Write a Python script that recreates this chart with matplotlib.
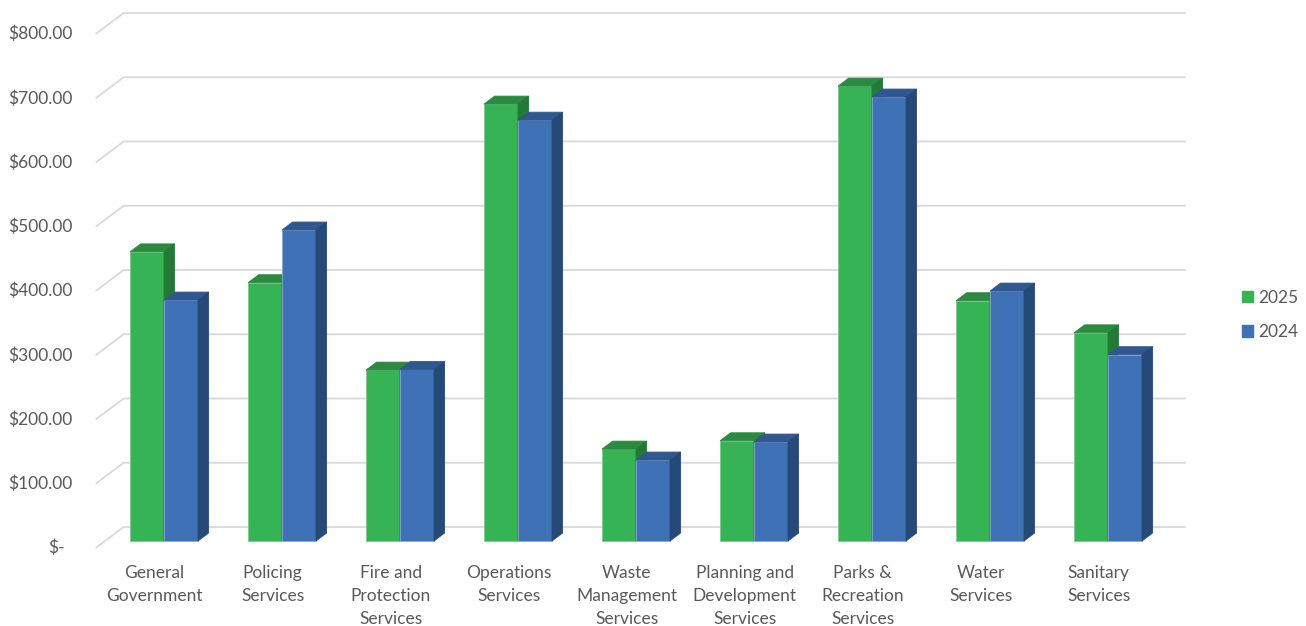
import matplotlib
matplotlib.use("Agg")
import matplotlib.pyplot as plt
from matplotlib.patches import Polygon, Patch

categories = [
    "General\nGovernment",
    "Policing\nServices",
    "Fire and\nProtection\nServices",
    "Operations\nServices",
    "Waste\nManagement\nServices",
    "Planning and\nDevelopment\nServices",
    "Parks &\nRecreation\nServices",
    "Water\nServices",
    "Sanitary\nServices",
]
series_names = ["2025", "2024"]
values_2025 = [450, 402, 266, 680, 143, 156, 708, 374, 324]
values_2024 = [375, 484, 267, 655, 126, 154, 691, 389, 290]
y_ticks = [0, 100, 200, 300, 400, 500, 600, 700, 800]

# colours: front, top, side
GREEN = ("#36b455", "#2a8a3f", "#237a37")
BLUE = ("#3f71b7", "#30578f", "#264a77")
GRID = "#d9d9d9"
TEXT = "#595959"

plt.rcParams["font.family"] = ["Lato", "DejaVu Sans"]

# fake 3d: depth vector (x in category units, y in value units)
DX, DY = 0.237, 32.7
D_FRONT = 1 / 3      # bars sit this far in from the front edge
D_BAR = 0.38         # bar thickness
D_BACK = 2 / 3       # back wall behind the bars
BAR_W = 0.288
FS = 12.5


def fmt(v):
    return "$-" if v == 0 else "${:,.2f}".format(v)


def draw_bar(ax, x0, v, cols):
    x1 = x0 + BAR_W
    dx, dy = D_BAR * DX, D_BAR * DY
    front, top, side = cols
    kw = dict(closed=True, lw=0.6, zorder=3)
    ax.add_patch(Polygon([(x0, 0), (x1, 0), (x1, v), (x0, v)],
                         fc=front, ec="#7fc993" if cols is GREEN else "#8aa6d0", **kw))
    ax.add_patch(Polygon([(x0, v), (x1, v), (x1 + dx, v + dy), (x0 + dx, v + dy)],
                         fc=top, ec=top, **kw))
    ax.add_patch(Polygon([(x1, 0), (x1 + dx, dy), (x1 + dx, v + dy), (x1, v)],
                         fc=side, ec=side, **kw))


def main() -> None:
    fig = plt.figure(figsize=(13.06, 6.26), dpi=100)
    ax = fig.add_axes([0, 0, 1, 1])
    ax.set_xlim(-164 / 118, (1306 - 164) / 118)
    ax.set_ylim(-85 / 0.6425, (626 - 85) / 0.6425)
    ax.axis("off")

    n = len(categories)
    left, right = -0.5, n - 0.5

    # gridlines: side wall (oblique) + back wall
    for v in y_ticks:
        fx, fy = left - D_FRONT * DX, v - D_FRONT * DY
        bx, by = left + D_BACK * DX, v + D_BACK * DY
        ax.plot([fx, bx, right + D_BACK * DX], [fy, by, by],
                color=GRID, lw=1.3, zorder=1, solid_capstyle="butt")
        ax.annotate(fmt(v), xy=(fx, fy), xytext=(-16.5 if v else -22, 0),
                    textcoords="offset points", ha="right", va="center",
                    fontsize=FS, color=TEXT)

    for i, cat in enumerate(categories):
        draw_bar(ax, i - BAR_W, values_2025[i], GREEN)
        draw_bar(ax, i, values_2024[i], BLUE)
        ax.annotate(cat, xy=(i - D_FRONT * DX, -D_FRONT * DY), xytext=(0, -12),
                    textcoords="offset points", ha="center", va="top",
                    multialignment="center", fontsize=FS, color=TEXT,
                    linespacing=1.56)

    handles = [Patch(color=GREEN[0]), Patch(color=BLUE[0])]
    fig.legend(handles, series_names, loc="center left",
               bbox_to_anchor=(1242 / 1306, 0.497), frameon=False,
               fontsize=FS, labelcolor=TEXT, handlelength=0.64,
               handleheight=0.64, handletextpad=0.3, labelspacing=1.05,
               borderpad=0, borderaxespad=0)

    fig.savefig("out.png", dpi=100)


if __name__ == "__main__":
    main()
